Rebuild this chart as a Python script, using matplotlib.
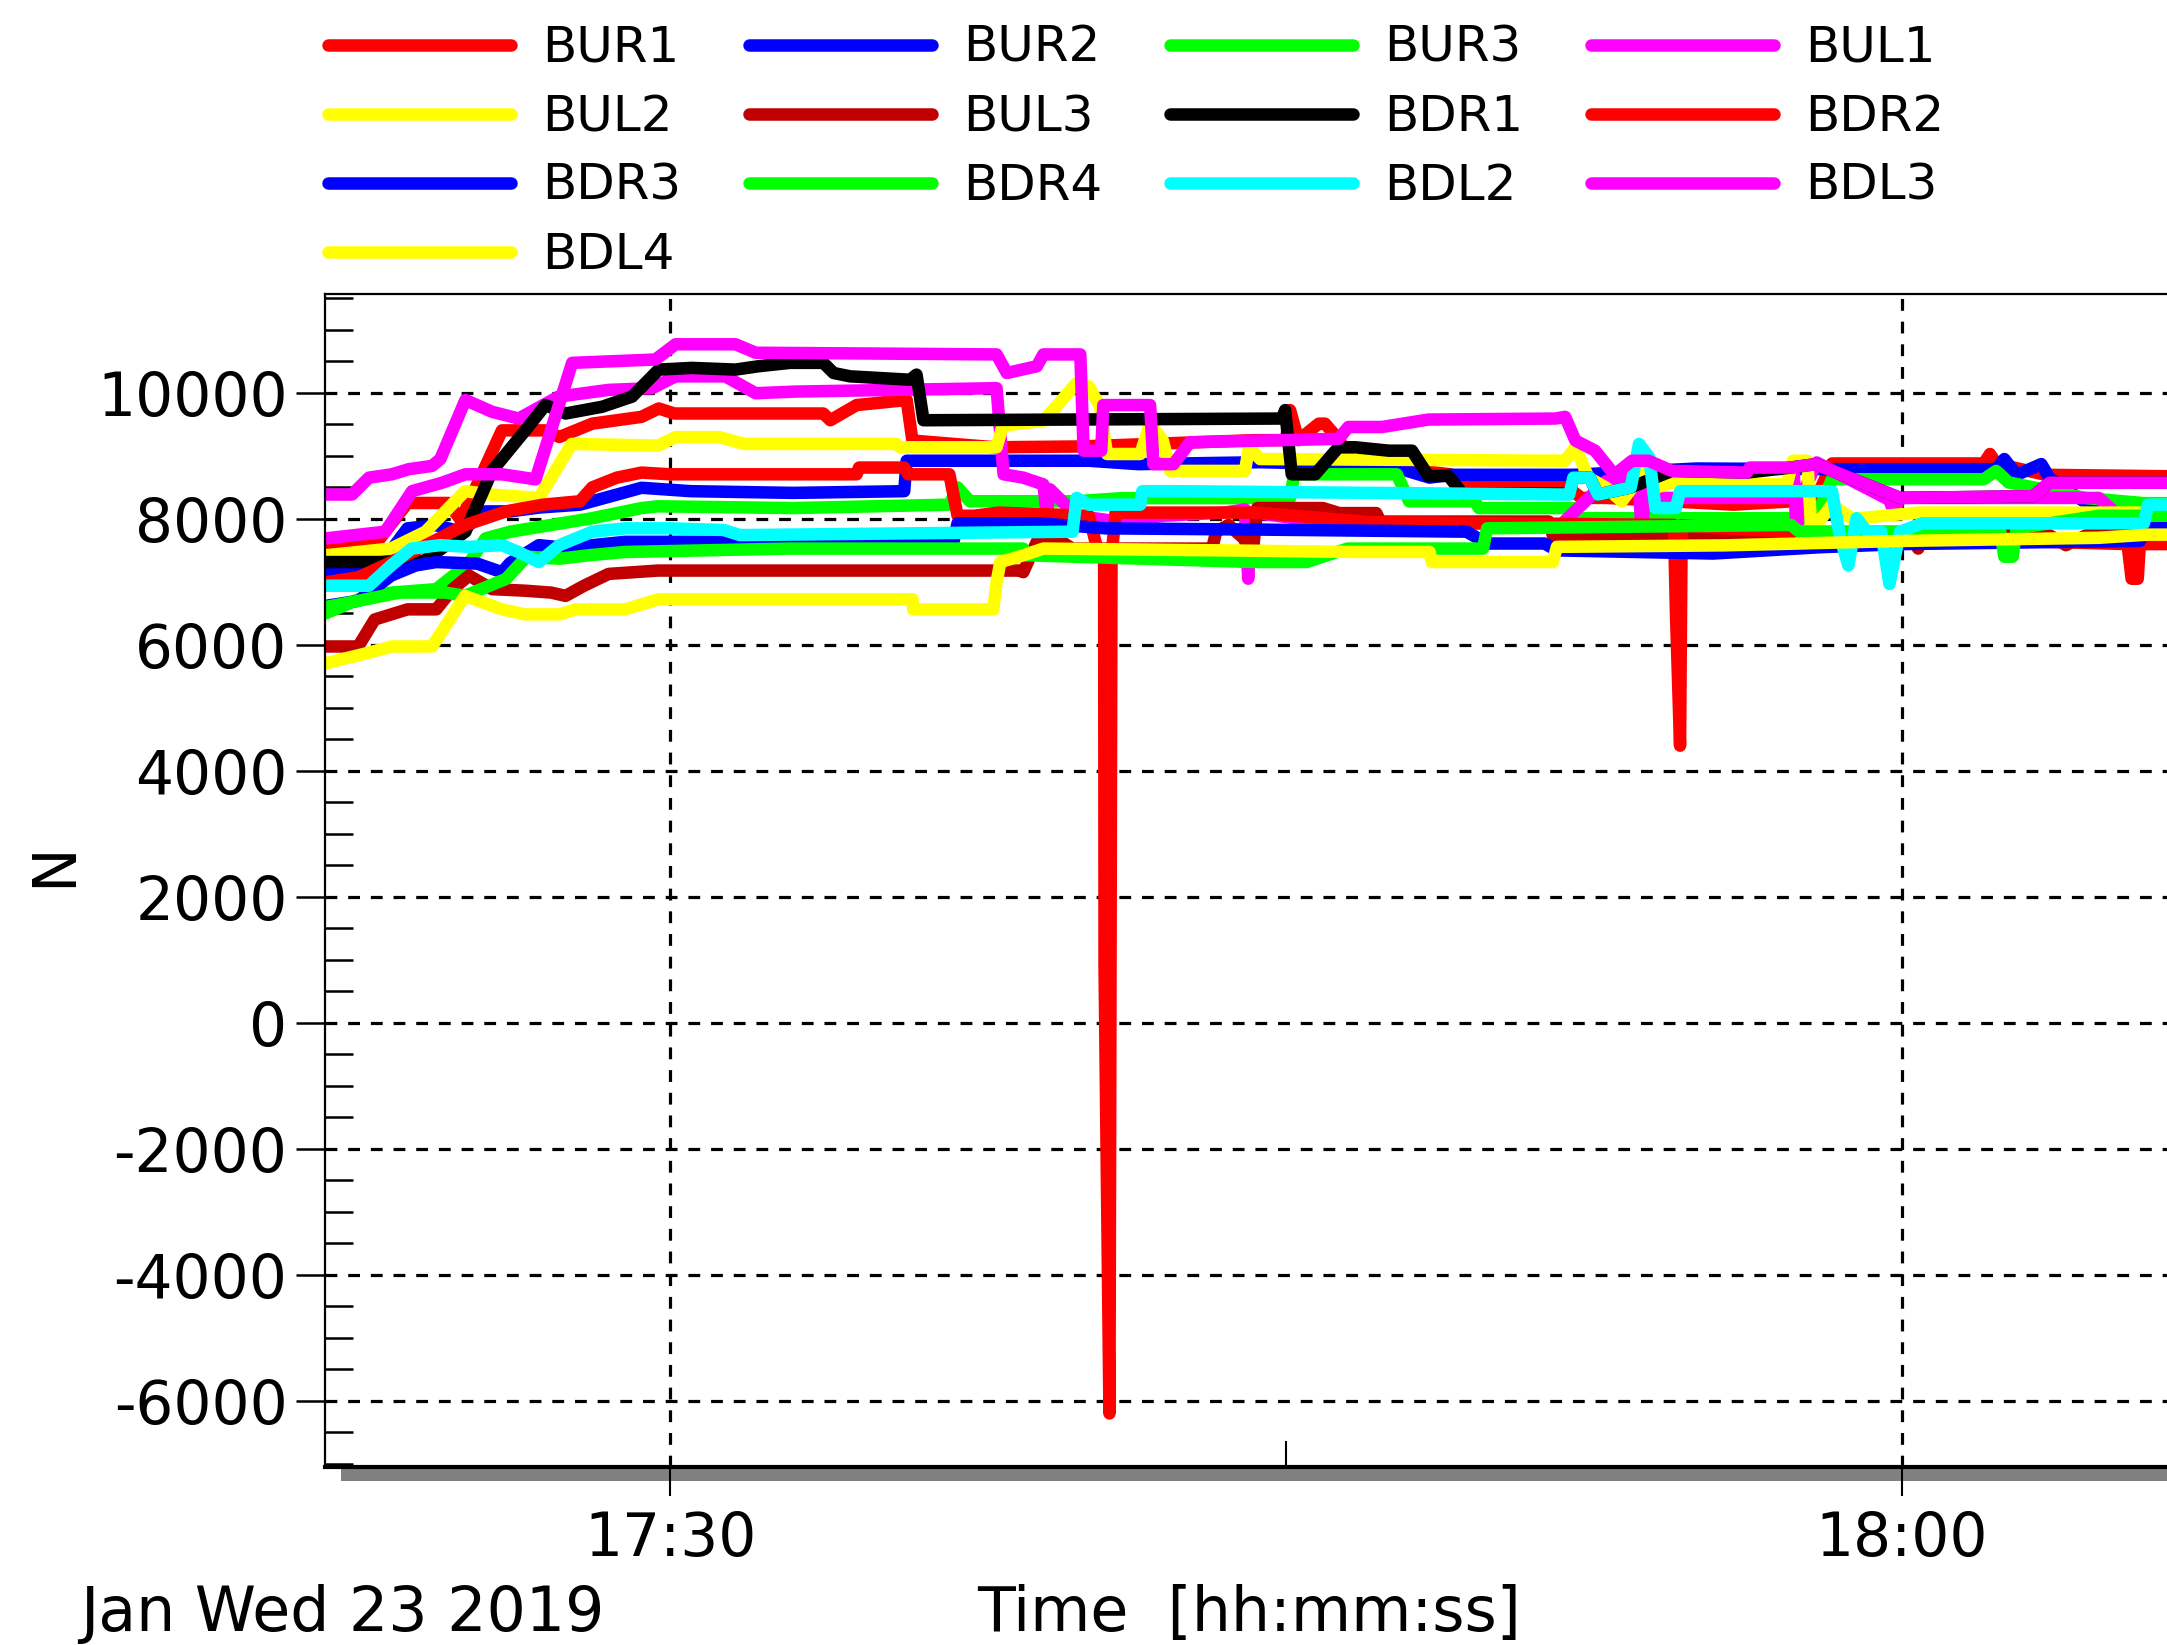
import matplotlib
matplotlib.use("Agg")
import matplotlib.pyplot as plt
from matplotlib.patches import Rectangle
from matplotlib.ticker import MultipleLocator

# ---------------- data (time in minutes after 17:00, force in N) ----------------
names = ["BUR1", "BUR2", "BUR3", "BUL1", "BUL2", "BUL3", "BDR1",
         "BDR2", "BDR3", "BDR4", "BDL2", "BDL3", "BDL4"]
colors = ["#ff0000", "#0000ff", "#00ff00", "#ff00ff", "#ffff00", "#c00000", "#000000",
          "#ff0000", "#0000ff", "#00ff00", "#00ffff", "#ff00ff", "#ffff00"]

BUR1_t = [21.6, 22.8, 23.6, 24.6, 24.9, 25.9, 26.96, 27.3, 28.1, 29.3, 29.72, 30.1, 33.0, 33.73, 33.9,
          34.54, 35.76, 35.9, 37.9, 40.0, 44.25, 45.0, 45.1, 45.3, 45.8, 45.95, 46.3, 46.6, 49.0, 49.5,
          51.7, 52.2, 52.8, 55.9, 57.9, 58.3, 62.0, 62.15, 62.3, 63.5, 70.0]
BUR1_v = [7583, 7583, 8253, 8253, 7980, 9405, 9405, 9300, 9512, 9620, 9753, 9673, 9673, 9673, 9566,
          9807, 9887, 9244, 9137, 9150, 9250, 9250, 9727, 9250, 9512, 9512, 9250, 8900, 8708, 8574,
          8574, 8333, 8333, 8226, 8300, 8880, 8880, 9030, 8880, 8700, 8650]

BUR2_t = [21.6, 22.8, 23.6, 24.3, 24.9, 25.5, 26.1, 26.8, 27.8, 28.7, 29.3, 30.5, 33.0, 35.7, 35.76,
          40.2, 41.4, 44.4, 47.5, 48.5, 49.0, 52.0, 55.0, 58.3, 62.3, 62.5, 62.8, 63.4, 63.6, 64.5, 65.9, 70.0]
BUR2_v = [7154, 7154, 7850, 7900, 7797, 8119, 8119, 8180, 8226, 8386, 8494, 8440, 8413, 8440, 8923,
          8923, 8869, 8900, 8850, 8655, 8700, 8700, 8800, 8790, 8790, 8950, 8700, 8870, 8650, 8250, 8000, 8000]

BUR3_t = [21.6, 22.4, 23.2, 24.3, 25.1, 25.5, 26.1, 28.1, 29.3, 29.7, 33.0, 36.8, 37.0, 37.3, 39.9,
          41.0, 45.1, 45.2, 47.7, 48.0, 49.6, 49.7, 52.0, 52.1, 57.9, 58.3, 62.0, 62.3, 62.6, 64.5, 65.9, 70.0]
BUR3_v = [6500, 6720, 6830, 6885, 7300, 7690, 7797, 8011, 8172, 8200, 8172, 8226, 8500, 8280, 8280,
          8330, 8330, 8708, 8708, 8280, 8280, 8172, 8172, 8011, 8011, 8630, 8630, 8762, 8580, 8330, 8250, 8250]

BUL1_t = [21.6, 22.25, 22.66, 23.22, 23.63, 24.2, 24.4, 25.01, 25.66, 26.31, 27.28, 28.5, 29.56, 30.13,
          31.34, 32.08, 33.05, 37.95, 38.12, 38.6, 39.09, 39.17, 39.25, 39.9, 41.0, 42.0, 43.5, 44.0,
          44.08, 44.15, 45.87, 51.7, 52.8, 53.2, 53.6, 53.67, 53.75, 54.0, 57.3, 57.36, 57.44, 57.52,
          57.93, 59.7, 59.8, 59.96, 64.8, 65.9, 70.0]
BUL1_v = [8387, 8387, 8655, 8708, 8789, 8842, 8950, 9887, 9700, 9593, 9941, 10048, 10075, 10263,
          10263, 9995, 10021, 10075, 8708, 8655, 8547, 8065, 8470, 8050, 7950, 8050, 8100, 8150,
          7050, 8100, 7958, 7908, 8601, 8655, 8500, 7690, 8500, 8333, 8333, 8869, 7743, 8300,
          8896, 8300, 8119, 8333, 8333, 7690, 7690]

BUL2_t = [21.6, 23.2, 24.04, 25.0, 25.66, 26.8, 27.6, 29.7, 30.13, 31.2, 31.8, 35.5, 35.6, 37.95, 38.1,
          39.1, 39.9, 40.2, 40.47, 40.64, 41.45, 41.69, 42.0, 42.18, 44.0, 44.1, 44.37, 51.8, 52.05,
          52.37, 52.8, 53.18, 53.43, 53.75, 54.0, 54.4, 57.2, 57.35, 57.7, 57.8, 58.3, 58.8, 60.4, 70.0]
BUL2_v = [7422, 7529, 7797, 8440, 8386, 8333, 9190, 9164, 9298, 9298, 9190, 9190, 9137, 9137, 9480,
          9560, 10155, 10100, 9780, 9030, 9030, 9512, 9244, 8762, 8762, 9137, 8950, 8923, 9137,
          8655, 8494, 8280, 8494, 8762, 8494, 8574, 8547, 8923, 8923, 7797, 8226, 8000, 8100, 8100]

BUL3_t = [21.6, 22.4, 22.8, 23.6, 24.3, 24.7, 25.1, 25.66, 26.47, 27.1, 27.45, 27.9, 28.5, 29.7, 38.5,
          38.6, 38.93, 39.1, 39.4, 39.8, 43.2, 43.3, 43.6, 43.97, 44.1, 44.2, 44.3, 45.9, 46.3, 47.2,
          47.3, 51.4, 51.5, 57.3, 57.4, 57.7, 58.3, 60.3, 60.4, 60.6, 62.4, 63.6, 64.0, 64.5, 70.0]
BUL3_v = [5975, 5975, 6403, 6564, 6564, 6885, 7100, 6885, 6860, 6830, 6778, 6939, 7127, 7180, 7180,
          7154, 7636, 7690, 7690, 7529, 7529, 7797, 7904, 7690, 7529, 7529, 8172, 8172, 8092, 8092,
          7958, 7958, 7743, 7743, 7583, 7583, 7636, 7636, 7529, 7797, 7797, 7740, 7583, 7743, 7743]

BDR1_t = [21.6, 23.06, 24.0, 25.01, 25.66, 26.47, 26.96, 27.45, 28.34, 29.07, 29.72, 30.53, 31.59,
          32.16, 32.92, 33.73, 33.98, 34.38, 35.84, 36.0, 36.17, 44.9, 44.98, 45.14, 45.71, 46.28,
          46.69, 47.5, 48.07, 48.47, 48.96, 49.3, 51.9, 52.0, 52.4, 52.6, 53.4, 54.4, 56.23, 57.3,
          57.9, 59.96, 63.2, 63.6, 70.0]
BDR1_v = [7315, 7315, 7330, 7797, 8762, 9405, 9807, 9673, 9780, 9941, 10370, 10397, 10370,
          10424, 10477, 10477, 10316, 10263, 10209, 10290, 9566, 9593, 9727, 8708, 8708, 9137,
          9137, 9083, 9083, 8681, 8681, 8400, 8400, 8655, 8655, 8386, 8500, 8762, 8735, 8815,
          8869, 8333, 8360, 8574, 8574]

BDR2_t = [21.6, 22.4, 23.5, 25.0, 26.0, 26.9, 27.8, 28.1, 28.7, 29.3, 30.0, 34.54, 34.6, 35.7, 35.8,
          36.8, 37.0, 37.4, 38.0, 40.2, 40.45, 40.57, 40.58, 40.70, 40.75, 40.85, 44.3, 47.0, 54.45,
          54.5, 54.6, 54.64, 55.7, 60.0, 65.5, 65.6, 65.75, 65.8, 70.0]
BDR2_v = [6993, 7073, 7400, 7900, 8120, 8226, 8280, 8500, 8655, 8735, 8708, 8708, 8815, 8815, 8708,
          8708, 8050, 8050, 8100, 8050, 7400, 7400, 900, -6200, 7400, 8100, 8100, 7950, 7904,
          6500, 4400, 7900, 7850, 7700, 7600, 7050, 7050, 7600, 7600]

BDR3_t = [21.6, 22.4, 23.2, 23.8, 24.3, 25.3, 25.9, 26.1, 26.8, 27.3, 28.1, 28.9, 36.9, 37.0, 39.0,
          40.6, 44.4, 49.4, 49.9, 51.3, 51.6, 55.4, 58.0, 60.0, 65.8, 65.9, 70.0]
BDR3_v = [6618, 6700, 7100, 7261, 7315, 7290, 7154, 7300, 7583, 7550, 7583, 7636, 7636, 7930, 7930,
          7850, 7830, 7797, 7609, 7609, 7500, 7450, 7550, 7600, 7650, 7850, 7850]

BDR4_t = [21.6, 22.4, 23.4, 24.5, 25.0, 25.6, 26.0, 26.5, 27.3, 28.0, 28.9, 32.92, 38.6, 38.7, 44.25,
          45.5, 46.5, 49.8, 49.9, 57.3, 57.5, 62.4, 62.5, 62.7, 62.8, 64.8, 70.0]
BDR4_v = [6600, 6700, 6830, 6832, 6780, 6940, 7047, 7400, 7368, 7422, 7475, 7529, 7529, 7422, 7315,
          7315, 7529, 7529, 7850, 7904, 7800, 7800, 7400, 7400, 7850, 8050, 8050]

BDL2_t = [21.6, 22.66, 23.2, 23.7, 24.4, 25.1, 25.9, 26.3, 26.8, 27.3, 28.1, 28.9, 30.0, 31.3, 31.7,
          39.8, 39.9, 40.2, 41.45, 41.5, 42.3, 51.9, 52.0, 52.4, 52.6, 53.4, 53.6, 53.85, 54.0, 54.5,
          54.6, 58.3, 58.5, 58.7, 58.9, 59.15, 59.5, 59.7, 59.96, 60.5, 65.9, 66.0, 70.0]
BDL2_v = [6939, 6939, 7261, 7529, 7583, 7556, 7583, 7475, 7315, 7583, 7797, 7850, 7850, 7824, 7743,
          7797, 8333, 8226, 8226, 8440, 8440, 8386, 8655, 8655, 8386, 8500, 9190, 8976, 8172, 8172,
          8440, 8440, 7700, 7261, 8011, 7797, 7797, 6966, 7797, 7930, 7930, 8226, 8226]

BDL3_t = [21.6, 23.06, 23.71, 24.44, 25.01, 25.9, 26.72, 27.61, 29.64, 30.13, 31.59, 32.08, 37.95,
          38.2, 38.93, 39.09, 39.99, 40.07, 40.5, 40.55, 41.69, 41.77, 42.26, 42.66, 46.28, 46.52,
          47.34, 48.47, 51.56, 51.8, 52.05, 52.53, 53.0, 53.43, 53.83, 54.4, 56.23, 56.3, 57.3, 57.9,
          59.96, 63.2, 63.6, 70.0]
BDL3_v = [7690, 7797, 8440, 8574, 8708, 8708, 8628, 10477, 10530, 10772, 10772, 10638, 10611,
          10316, 10423, 10611, 10611, 9083, 9083, 9807, 9807, 8869, 8869, 9217, 9271, 9459,
          9459, 9577, 9593, 9620, 9244, 9083, 8700, 8923, 8923, 8762, 8735, 8815, 8815, 8869,
          8333, 8360, 8574, 8574]

BDL4_t = [21.6, 22.6, 23.22, 24.2, 25.0, 25.9, 26.47, 27.3, 27.7, 28.9, 29.72, 35.9, 35.92, 37.87,
          37.95, 38.04, 38.6, 39.09, 43.5, 46.7, 48.5, 48.55, 51.5, 51.6, 55.7, 60.0, 64.8, 66.0, 70.0]
BDL4_v = [5707, 5867, 5975, 5975, 6778, 6564, 6484, 6484, 6564, 6564, 6725, 6725, 6564, 6564,
          6993, 7315, 7422, 7529, 7500, 7475, 7475, 7315, 7315, 7556, 7580, 7650, 7700, 7750, 7750]

series_t = [BUR1_t, BUR2_t, BUR3_t, BUL1_t, BUL2_t, BUL3_t, BDR1_t,
            BDR2_t, BDR3_t, BDR4_t, BDL2_t, BDL3_t, BDL4_t]
series_v = [BUR1_v, BUR2_v, BUR3_v, BUL1_v, BUL2_v, BUL3_v, BDR1_v,
            BDR2_v, BDR3_v, BDR4_v, BDL2_v, BDL3_v, BDL4_v]

y_major = [-6000, -4000, -2000, 0, 2000, 4000, 6000, 8000, 10000]
x_major = [30, 60]          # 17:30, 18:00
x_labels = ["17:30", "18:00"]

# ---------------- figure / layout ----------------
W, H = 2167, 1645
plt.rcParams['font.family'] = ['DejaVu Sans']
plt.rcParams['axes.unicode_minus'] = False
fig = plt.figure(figsize=(W / 100, H / 100), dpi=100)

t_left, t_right = 21.59, 70.0
px_per_min = 41.05
ax_left_px, ax_top_px, ax_bot_px = 325, 294, 1467
ax_w_px = (t_right - t_left) * px_per_min
ax_h_px = ax_bot_px - ax_top_px
ax = fig.add_axes([ax_left_px / W, 1 - ax_bot_px / H, ax_w_px / W, ax_h_px / H])
ax.set_xlim(t_left, t_right)
ax.set_ylim(-7050, 11570)

ax.grid(True, which='major', color='black', linestyle=(0, (3.7, 3.4)), linewidth=2.3)
ax.set_axisbelow(True)

LW = 9
lines = []
for t, v, c, n in zip(series_t, series_v, colors, names):
    ln, = ax.plot(t, v, color=c, linewidth=LW, label=n, solid_joinstyle='round',
                  solid_capstyle='round')
    lines.append(ln)

# ticks
ax.set_yticks(y_major)
ax.yaxis.set_minor_locator(MultipleLocator(500))
ax.set_xticks(x_major)
ax.set_xticklabels(x_labels)
ax.xaxis.set_minor_locator(MultipleLocator(15))
ax.tick_params(axis='y', which='major', direction='out', length=21, width=1.8,
               labelsize=43, pad=6)
ax.tick_params(axis='y', which='minor', direction='in', length=20, width=1.8)
ax.tick_params(axis='x', which='major', direction='out', length=21, width=1.5,
               labelsize=43, pad=10)
ax.tick_params(axis='x', which='minor', direction='in', length=19, width=1.5)

for s in ['left', 'top']:
    ax.spines[s].set_linewidth(1.6)
ax.spines['right'].set_visible(False)
ax.spines['bottom'].set_linewidth(3)

# shadow under the time axis
ax.add_patch(Rectangle(((341 - ax_left_px) / ax_w_px, -14 / ax_h_px), 1.2, 14 / ax_h_px,
                       transform=ax.transAxes, color='#808080', clip_on=False, zorder=0.5,
                       linewidth=0))

# texts
fig.text(55 / W, 1 - 865 / H, "N", rotation=90, fontsize=43, ha='center', va='center')
fig.text(80 / W, 1 - 1631 / H, "Jan Wed 23 2019", fontsize=44.5, ha='left', va='baseline')
fig.text(977 / W, 1 - 1631 / H, "Time  [hh:mm:ss]", fontsize=44.5, ha='left', va='baseline')

# legend (row-major look with 4 columns)
order = [0, 4, 8, 12, 1, 5, 9, 2, 6, 10, 3, 7, 11]
fig.legend([lines[i] for i in order], [names[i] for i in order], ncol=4,
           loc='upper left', bbox_to_anchor=(328 / W, 1 - 24 / H), frameon=False,
           fontsize=36, handlelength=3.66, handletextpad=0.62, columnspacing=1.36,
           labelspacing=0.42, borderpad=0, borderaxespad=0)

fig.savefig("out.png", dpi=100)
